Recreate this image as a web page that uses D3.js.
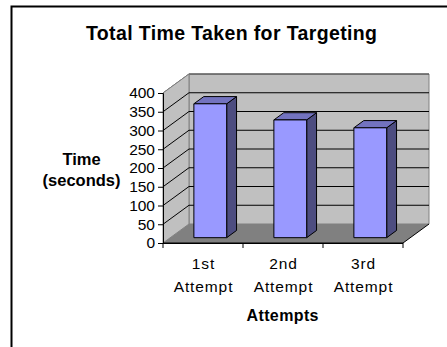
<!DOCTYPE html>
<html>
<head>
<meta charset="utf-8">
<script src="https://cdn.jsdelivr.net/npm/d3@7"></script>
<style>
  html, body { margin: 0; padding: 0; background: #fff; }
  svg { display: block; }
  text { font-family: "Liberation Sans", Arial, sans-serif; fill: #000; }
</style>
</head>
<body>
<svg id="chart" width="447" height="347"></svg>
<script>
// Chart data
const categories = ["1st Attempt", "2nd Attempt", "3rd Attempt"];
const timeSeconds = [357, 314, 293];
const yTicks = [0, 50, 100, 150, 200, 250, 300, 350, 400];
const chartTitle = "Total Time Taken for Targeting";
const yTitle = ["Time", "(seconds)"];
const xTitle = "Attempts";

(function () {
const svg = d3.select("#chart");
const FONT = '"Liberation Sans", Arial, sans-serif';

// Outer chart-area frame (extends past the right and bottom edges)
svg.append("rect")
  .attr("x", 11.5).attr("y", 6.5)
  .attr("width", 460).attr("height", 360)
  .attr("fill", "#fff").attr("stroke", "#000").attr("stroke-width", 2);

// 3D plot geometry: front plane plus an oblique depth offset
const plotLeft = 163, plotRight = 403, plotBottom = 243, plotTop = 93;
const depthX = 26, depthY = -19;

const x = d3.scaleBand().domain(categories).range([plotLeft, plotRight]);
const y = d3.scaleLinear().domain([0, 400]).range([plotBottom, plotTop]);

// project a point at front-plane x, value v, depth fraction d (0 front, 1 back)
const P = (px, v, d) => [px + d * depthX, y(v) + d * depthY];
const poly = pts => "M" + pts.map(p => p.join(",")).join("L") + "Z";

const g = svg.append("g");

// back wall
g.append("path")
  .attr("d", poly([P(plotLeft, 0, 1), P(plotRight, 0, 1), P(plotRight, 400, 1), P(plotLeft, 400, 1)]))
  .attr("fill", "#c0c0c0").attr("stroke", "#808080").attr("stroke-width", 1);
g.append("path")
  .attr("d", "M" + P(plotLeft, 400, 0).join(",") + "L" + P(plotLeft, 400, 1).join(",") + "L" + P(plotRight, 400, 1).join(","))
  .attr("fill", "none").attr("stroke", "#404040").attr("stroke-width", 1);

// left side wall
g.append("path")
  .attr("d", poly([P(plotLeft, 0, 0), P(plotLeft, 0, 1), P(plotLeft, 400, 1), P(plotLeft, 400, 0)]))
  .attr("fill", "#c0c0c0").attr("stroke", "#808080").attr("stroke-width", 1);

// floor
g.append("path")
  .attr("d", poly([P(plotLeft, 0, 0), P(plotRight, 0, 0), P(plotRight, 0, 1), P(plotLeft, 0, 1)]))
  .attr("fill", "#808080").attr("stroke", "none");

// gridlines on side wall and back wall
const gridTicks = yTicks.filter(t => t > 0 && t < 400);
g.selectAll("path.grid").data(gridTicks).join("path")
  .attr("class", "grid")
  .attr("d", t => "M" + P(plotLeft, t, 0).join(",") + "L" + P(plotLeft, t, 1).join(",") + "L" + P(plotRight, t, 1).join(","))
  .attr("fill", "none").attr("stroke", "#000").attr("stroke-width", 1);

// floor outline (front and right edges)
g.append("path")
  .attr("d", "M" + P(plotLeft, 0, 0).join(",") + "L" + P(plotRight, 0, 0).join(",") + "L" + P(plotRight, 0, 1).join(","))
  .attr("fill", "none").attr("stroke", "#000").attr("stroke-width", 1);

// value axis
const yAxis = d3.axisLeft(y).tickValues(yTicks).tickSize(5).tickPadding(3).tickFormat(d3.format("d"));
const yAxisG = svg.append("g").attr("transform", `translate(${plotLeft},0)`).call(yAxis);
yAxisG.select(".domain").attr("stroke", "#000");
yAxisG.selectAll("text").style("font-size", "15.5px").attr("fill", "#000")
  .style("font-family", FONT);

// category axis: ticks on category boundaries
const xAxisG = svg.append("g").attr("transform", `translate(0,${plotBottom})`);
xAxisG.append("path").attr("d", `M${plotLeft},0.5H${plotRight}`).attr("stroke", "#000");
const boundaries = categories.map(c => x(c)).concat([x(categories[categories.length - 1]) + x.bandwidth()]);
xAxisG.selectAll("line").data(boundaries).join("line")
  .attr("x1", d => d).attr("x2", d => d).attr("y1", 0).attr("y2", 5)
  .attr("stroke", "#000");
xAxisG.selectAll("text").data(categories).join("text")
  .attr("text-anchor", "middle")
  .style("font-size", "15.5px")
  .style("letter-spacing", "0.9px")
  .each(function (c) {
    const parts = c.split(" ");
    d3.select(this).selectAll("tspan").data(parts).join("tspan")
      .attr("x", x(c) + x.bandwidth() / 2 + 0.5)
      .attr("y", (d, i) => 26 + i * 22.5)
      .text(d => d);
  });

// 3D columns
const barFront = 0.28, barBack = 0.66;
const barW = 0.41;
const bars = g.selectAll("g.bar").data(categories.map((c, i) => ({ c, v: timeSeconds[i] })))
  .join("g").attr("class", "bar");
bars.each(function (d) {
  const sel = d3.select(this);
  const x0 = x(d.c) + x.bandwidth() * (0.5 - barW / 2);
  const x1 = x(d.c) + x.bandwidth() * (0.5 + barW / 2);
  // right side
  sel.append("path")
    .attr("d", poly([P(x1, 0, barFront), P(x1, 0, barBack), P(x1, d.v, barBack), P(x1, d.v, barFront)]))
    .attr("fill", "#4d4d80").attr("stroke", "#000").attr("stroke-width", 1).attr("stroke-linejoin", "round");
  // top
  sel.append("path")
    .attr("d", poly([P(x0, d.v, barFront), P(x1, d.v, barFront), P(x1, d.v, barBack), P(x0, d.v, barBack)]))
    .attr("fill", "#7373bf").attr("stroke", "#000").attr("stroke-width", 1).attr("stroke-linejoin", "round");
  // front face
  sel.append("path")
    .attr("d", poly([P(x0, 0, barFront), P(x1, 0, barFront), P(x1, d.v, barFront), P(x0, d.v, barFront)]))
    .attr("fill", "#9999ff").attr("stroke", "#000").attr("stroke-width", 1).attr("stroke-linejoin", "round");
});

// titles
svg.append("text").attr("x", 86).attr("y", 40)
  .attr("textLength", 291).attr("lengthAdjust", "spacing")
  .style("font-size", "19.5px").style("font-weight", "bold").text(chartTitle);

svg.append("text").attr("text-anchor", "middle")
  .style("font-size", "16.5px").style("font-weight", "bold")
  .selectAll("tspan").data(yTitle).join("tspan")
  .attr("x", 81.5).attr("y", (d, i) => 164.5 + i * 21).text(d => d);

svg.append("text").attr("x", 246.5).attr("y", 321)
  .attr("textLength", 72).attr("lengthAdjust", "spacing")
  .style("font-size", "16px").style("font-weight", "bold").text(xTitle);
})();
</script>
</body>
</html>
